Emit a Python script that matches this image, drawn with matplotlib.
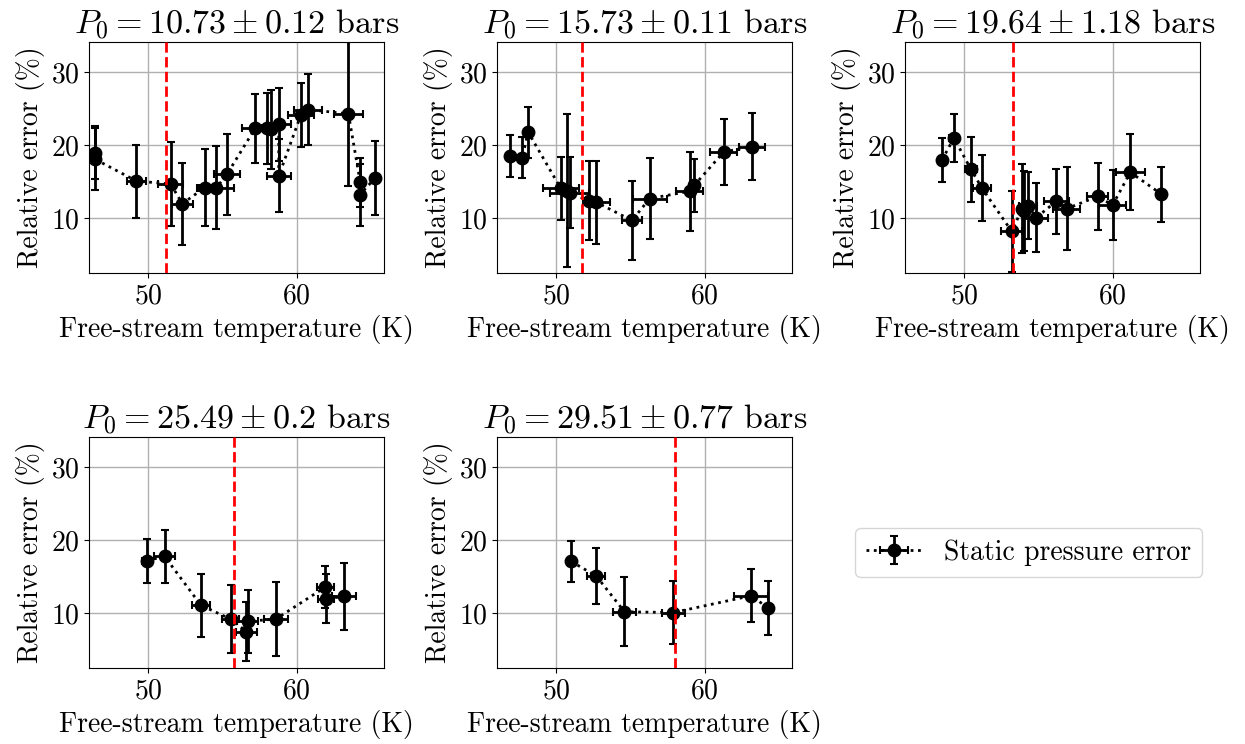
import matplotlib
matplotlib.use("Agg")
import matplotlib.pyplot as plt

plt.rcParams['font.family'] = 'serif'
plt.rcParams['font.serif'] = ['cmr10']
plt.rcParams['mathtext.fontset'] = 'cm'
plt.rcParams['axes.formatter.use_mathtext'] = True
plt.rcParams['axes.unicode_minus'] = False

# ---- data ----
titles = [r"$P_0 = 10.73 \pm 0.12$ bars", r"$P_0 = 15.73 \pm 0.11$ bars",
          r"$P_0 = 19.64 \pm 1.18$ bars", r"$P_0 = 25.49 \pm 0.2$ bars",
          r"$P_0 = 29.51 \pm 0.77$ bars"]
t_design = [51.17, 51.73, 53.27, 55.78, 58.02]

T1 = [46.4, 46.4, 49.2, 51.5, 52.3, 53.8, 54.6, 55.3, 57.2, 58.0, 58.3, 58.8, 58.8, 60.3, 60.8, 63.5, 64.3, 64.25, 65.3]
T1_err = [0.3, 0.15, 0.67, 0.85, 0.7, 0.5, 1.2, 0.9, 0.85, 0.3, 0.3, 0.8, 0.8, 0.9, 0.95, 1.0, 0.2, 0.2, 0.2]
E1 = [19.0, 18.1, 15.1, 14.7, 12.0, 14.2, 14.2, 16.0, 22.3, 22.3, 22.2, 22.9, 15.8, 24.2, 24.9, 24.3, 14.9, 13.2, 15.5]
E1_err = [3.6, 4.2, 5.0, 5.8, 5.6, 5.3, 5.7, 5.5, 4.7, 4.8, 5.4, 5.0, 5.0, 4.4, 4.8, 9.9, 3.4, 4.2, 5.1]

T2 = [46.9, 47.7, 48.1, 50.3, 50.7, 50.9, 52.2, 52.7, 55.1, 56.3, 59.0, 59.3, 61.3, 63.2]
T2_err = [0.15, 0.15, 0.3, 1.2, 0.3, 1.3, 0.3, 0.9, 0.7, 1.15, 0.9, 0.3, 0.9, 0.9]
E2 = [18.5, 18.3, 21.8, 14.1, 13.8, 13.5, 12.4, 12.2, 9.7, 12.7, 13.7, 14.5, 19.1, 19.8]
E2_err = [2.9, 2.8, 3.5, 4.3, 10.5, 4.9, 5.4, 5.7, 5.4, 5.5, 5.4, 3.6, 4.5, 4.6]

T3 = [48.5, 49.3, 50.45, 51.2, 53.2, 53.9, 54.0, 54.3, 54.85, 56.2, 56.9, 59.0, 60.0, 61.2, 63.3]
T3_err = [0.2, 0.3, 0.4, 0.6, 0.7, 0.3, 0.3, 0.6, 0.8, 0.85, 0.9, 0.7, 0.9, 1.0, 0.3]
E3 = [18.0, 21.0, 16.7, 14.1, 8.2, 11.3, 11.0, 11.7, 10.1, 12.3, 11.3, 13.0, 11.8, 16.3, 13.3]
E3_err = [3.0, 3.3, 4.5, 4.5, 5.5, 6.1, 5.5, 4.6, 4.7, 4.4, 5.7, 4.6, 4.8, 5.2, 3.75]

T4 = [49.9, 51.1, 53.55, 55.55, 56.6, 56.7, 58.6, 61.95, 62.0, 63.2]
T4_err = [0.3, 0.7, 0.6, 0.6, 0.7, 0.7, 0.8, 0.55, 0.55, 0.8]
E4 = [17.2, 17.8, 11.1, 9.2, 7.5, 8.9, 9.2, 13.6, 12.0, 12.3]
E4_err = [3.0, 3.6, 4.3, 4.7, 4.1, 4.3, 5.1, 2.9, 3.4, 4.65]

T5 = [51.0, 52.7, 54.6, 57.9, 63.15, 64.3]
T5_err = [0.2, 0.6, 0.8, 0.8, 1.15, 0.3]
E5 = [17.1, 15.1, 10.2, 10.1, 12.4, 10.7]
E5_err = [2.8, 3.85, 4.7, 4.35, 3.6, 3.7]

datasets = [(T1, T1_err, E1, E1_err), (T2, T2_err, E2, E2_err), (T3, T3_err, E3, E3_err),
            (T4, T4_err, E4, E4_err), (T5, T5_err, E5, E5_err)]

xticks = [50, 60]
yticks = [10, 20, 30]

# ---- figure ----
fig = plt.figure(figsize=(12.45, 7.44), dpi=100)
W, H = 1245, 744
lefts = [89, 497, 905]
aw = 295
tops = [42, 437]
ah = 231

axes = []
for i in range(6):
    r, c = divmod(i, 3)
    ax = fig.add_axes([lefts[c] / W, 1 - (tops[r] + ah) / H, aw / W, ah / H])
    axes.append(ax)

handle = None
for i, (T, Terr, E, Eerr) in enumerate(datasets):
    ax = axes[i]
    ax.grid(True, color='#b0b0b0', linewidth=1.0, zorder=0)
    ax.set_axisbelow(True)
    cont = ax.errorbar(T, E, xerr=Terr, yerr=Eerr, fmt='o', linestyle=':', color='black',
                       markersize=9, linewidth=2, elinewidth=2, capsize=3, capthick=1.5,
                       label='Static pressure error', zorder=3)
    if handle is None:
        handle = cont
    ax.axvline(t_design[i], color='red', linestyle='--', linewidth=2, zorder=4)
    ax.set_xlim(46.0, 65.9)
    ax.set_ylim(2.5, 34.15)
    ax.set_xticks(xticks)
    ax.set_yticks(yticks)
    ax.tick_params(labelsize=20)
    ax.set_xlabel('Free-stream temperature (K)', fontsize=20)
    ax.set_ylabel('Relative error (%)', fontsize=20)
    ax.set_title(titles[i], fontsize=24.5)

axes[5].axis('off')
axes[5].legend(handles=[handle], labels=['Static pressure error'], loc='center',
               bbox_to_anchor=(0.42, 0.5), fontsize=20, handlelength=2.0)

fig.savefig('out.png', dpi=100)
